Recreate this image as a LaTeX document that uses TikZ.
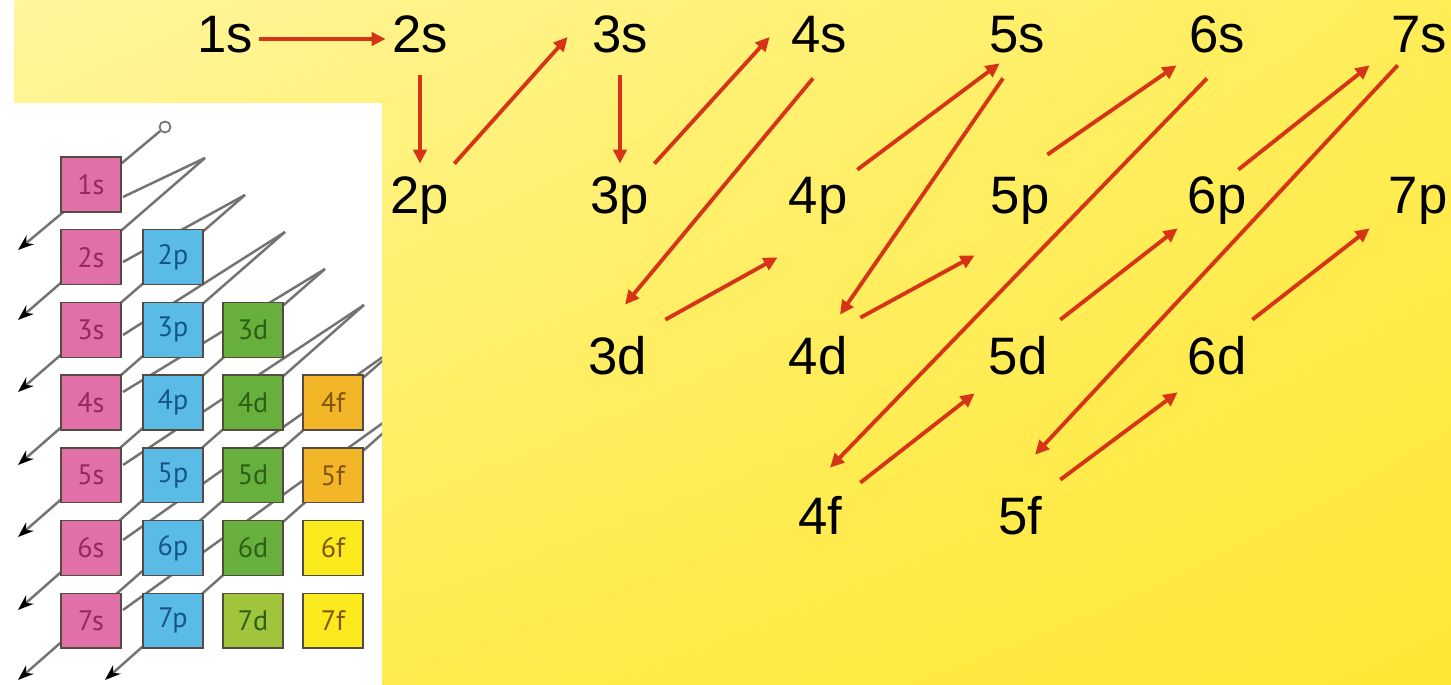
\documentclass[tikz,border=0pt]{standalone}
\usepackage{fontspec}
\setmainfont{Liberation Sans}
\newfontfamily\panelfont{PT Sans}
\usepackage{xcolor}
\usepackage{tikz}
\usetikzlibrary{arrows.meta,positioning,shadings}

\definecolor{arrowred}{RGB}{214,52,22}
\definecolor{bgpale}{RGB}{255,246,158}
\definecolor{bgyellow}{RGB}{255,237,88}
\definecolor{bgdeep}{RGB}{255,231,52}
\definecolor{linegray}{RGB}{115,115,115}
\definecolor{boxline}{RGB}{85,75,65}
\definecolor{sfill}{RGB}{226,112,168}
\definecolor{stext}{RGB}{150,40,95}
\definecolor{pfill}{RGB}{90,188,230}
\definecolor{ptext}{RGB}{20,85,140}
\definecolor{dfill}{RGB}{104,176,62}
\definecolor{dfilllight}{RGB}{160,196,60}
\definecolor{dtext}{RGB}{45,95,20}
\definecolor{ffill}{RGB}{242,182,40}
\definecolor{ffilllight}{RGB}{250,234,30}
\definecolor{ftext}{RGB}{130,85,10}

\begin{document}
\begin{tikzpicture}[x=0.02cm, y=-0.02cm,
    orbital/.style={font=\fontsize{30}{36}\selectfont, anchor=base, text height=0.76cm, text depth=0.2cm, minimum width=1.36cm, inner xsep=0pt, inner ysep=0.24cm},
    orbarrow/.style={draw=arrowred, line width=2.2pt, -{Triangle[length=8pt, width=7.5pt]}},
    orbbox/.style={draw=boxline, line width=0.8pt, minimum width=1.2cm, minimum height=1.1cm, inner sep=0pt, font=\panelfont\fontsize{16}{18}\selectfont},
    zig/.style={draw=linegray, line width=1.4pt},
    zigarrow/.style={zig, -{Stealth[length=9pt, width=6.5pt, color=black]}}]
    \useasboundingbox (0,0) rectangle (1451,685);

    % Yellow background
    \shade[upper left=bgpale, upper right=bgyellow, lower left=bgyellow, lower right=bgdeep] (0,0) rectangle (1451,685);
    \fill[white] (0,0) rectangle (14,685);
    \fill[white] (0,103) rectangle (382,685);

    % Filling order, s row
    \node[orbital] (s1) at (225,53) {1s};
    \node[orbital] (s2) at (420,53) {2s};
    \node[orbital] (s3) at (620,53) {3s};
    \node[orbital] (s4) at (819,53) {4s};
    \node[orbital] (s5) at (1017,53) {5s};
    \node[orbital] (s6) at (1217,53) {6s};
    \node[orbital] (s7) at (1419,53) {7s};
    % p row
    \node[orbital] (p2) at (420,214) {2p};
    \node[orbital] (p3) at (620,214) {3p};
    \node[orbital] (p4) at (818,214) {4p};
    \node[orbital] (p5) at (1020,214) {5p};
    \node[orbital] (p6) at (1217,214) {6p};
    \node[orbital] (p7) at (1418,214) {7p};
    % d row
    \node[orbital] (d3) at (618,375) {3d};
    \node[orbital] (d4) at (818,375) {4d};
    \node[orbital] (d5) at (1018,375) {5d};
    \node[orbital] (d6) at (1217,375) {6d};
    % f row
    \node[orbital] (f4) at (820,535) {4f};
    \node[orbital] (f5) at (1020,535) {5f};

    % Red arrows
    \draw[orbarrow] (s1) -- (s2);
    \draw[orbarrow] (s2) -- (p2);
    \draw[orbarrow] (p2.north east) -- ([shift={(-18,-2)}]s3.west);
    \draw[orbarrow] (s3) -- (p3);
    \draw[orbarrow] (p3.north east) -- ([shift={(-15,-2)}]s4.west);
    \draw[orbarrow] ([shift={(-6,3)}]s4.south) -- ([shift={(7,-20)}]d3.north);
    \draw[orbarrow] ([shift={(13,-5)}]d3.north east) -- ([shift={(-6,21)}]p4.south west);
    \draw[orbarrow] ([shift={(5,6)}]p4.north east) -- ([shift={(17,-12)}]s5.south west);
    \draw[orbarrow] ([shift={(-14,3)}]s5.south) -- ([shift={(22,-10)}]d4.north);
    \draw[orbarrow] ([shift={(8,-7)}]d4.north east) -- ([shift={(-11,19)}]p5.south west);
    \draw[orbarrow] ([shift={(-7,-9)}]p5.north east) -- ([shift={(-6,-10)}]s6.south west);
    \draw[orbarrow] ([shift={(-10,3)}]s6.south) -- ([shift={(10,-17)}]f4.north);
    \draw[orbarrow] ([shift={(6,-2)}]f4.north east) -- ([shift={(-9,-4)}]d5.south west);
    \draw[orbarrow] ([shift={(8,-5)}]d5.north east) -- ([shift={(-5,-8)}]p6.south west);
    \draw[orbarrow] ([shift={(-13,6)}]p6.north east) -- ([shift={(-15,-10)}]s7.south west);
    \draw[orbarrow] ([shift={(13,-10)}]s7.south west) -- ([shift={(15,-30)}]f5.north);
    \draw[orbarrow] ([shift={(6,-5)}]f5.north east) -- ([shift={(-5,-5)}]d6.south west);
    \draw[orbarrow] ([shift={(1,-5)}]d6.north east) -- ([shift={(-14,-8)}]p7.south west);

    % Small chart, zig-zag lines behind the boxes
    \coordinate (t2) at (205,158);
    \coordinate (t3) at (245,195);
    \coordinate (t4) at (285,232);
    \coordinate (t5) at (325,269);
    \coordinate (t6) at (364,305);
    \coordinate (t7) at (404,342);
    \coordinate (t8) at (444,379);
    \coordinate (r2) at (123,197);
    \coordinate (r3) at (123,262);
    \coordinate (r4) at (123,335);
    \coordinate (r5) at (123,392);
    \coordinate (r6) at (123,465);
    \coordinate (r7) at (123,540);
    \coordinate (r8) at (123,610);
    \coordinate (e1) at (18,250);
    \coordinate (e2) at (18,320);
    \coordinate (e3) at (18,392);
    \coordinate (e4) at (18,465);
    \coordinate (e5) at (18,537);
    \coordinate (e6) at (18,610);
    \coordinate (e7) at (18,680);
    \coordinate (e8) at (105,680);
    \begin{scope}
        \clip (0,103) rectangle (382,685);
        \node[circle, draw=linegray, fill=white, line width=1pt, inner sep=0pt, minimum size=0.22cm] (start) at (165,127) {};
        \draw[zigarrow] (start) -- (e1);
        \foreach \k in {2,...,8} {
            \draw[zig] (r\k) -- (t\k);
            \draw[zigarrow] (t\k) -- (e\k);
        }
    \end{scope}

    % Small chart, boxes
    \foreach \n in {1,...,7}
        \node[orbbox, fill=sfill, text=stext] (bs\n) at (91,{184.5+72.7*(\n-1)}) {\n s};
    \foreach \n in {2,...,7}
        \node[orbbox, fill=pfill, text=ptext] (bp\n) at (173,{184.5+72.7*(\n-1)}) {\n p};
    \foreach \n in {3,...,6}
        \node[orbbox, fill=dfill, text=dtext] (bd\n) at (253,{184.5+72.7*(\n-1)}) {\n d};
    \node[orbbox, fill=dfilllight, text=dtext] (bd7) at (253,620.7) {7d};
    \foreach \n in {4,5}
        \node[orbbox, fill=ffill, text=ftext] (bf\n) at (333,{184.5+72.7*(\n-1)}) {\n f};
    \foreach \n in {6,7}
        \node[orbbox, fill=ffilllight, text=ftext] (bf\n) at (333,{184.5+72.7*(\n-1)}) {\n f};
\end{tikzpicture}
\end{document}
